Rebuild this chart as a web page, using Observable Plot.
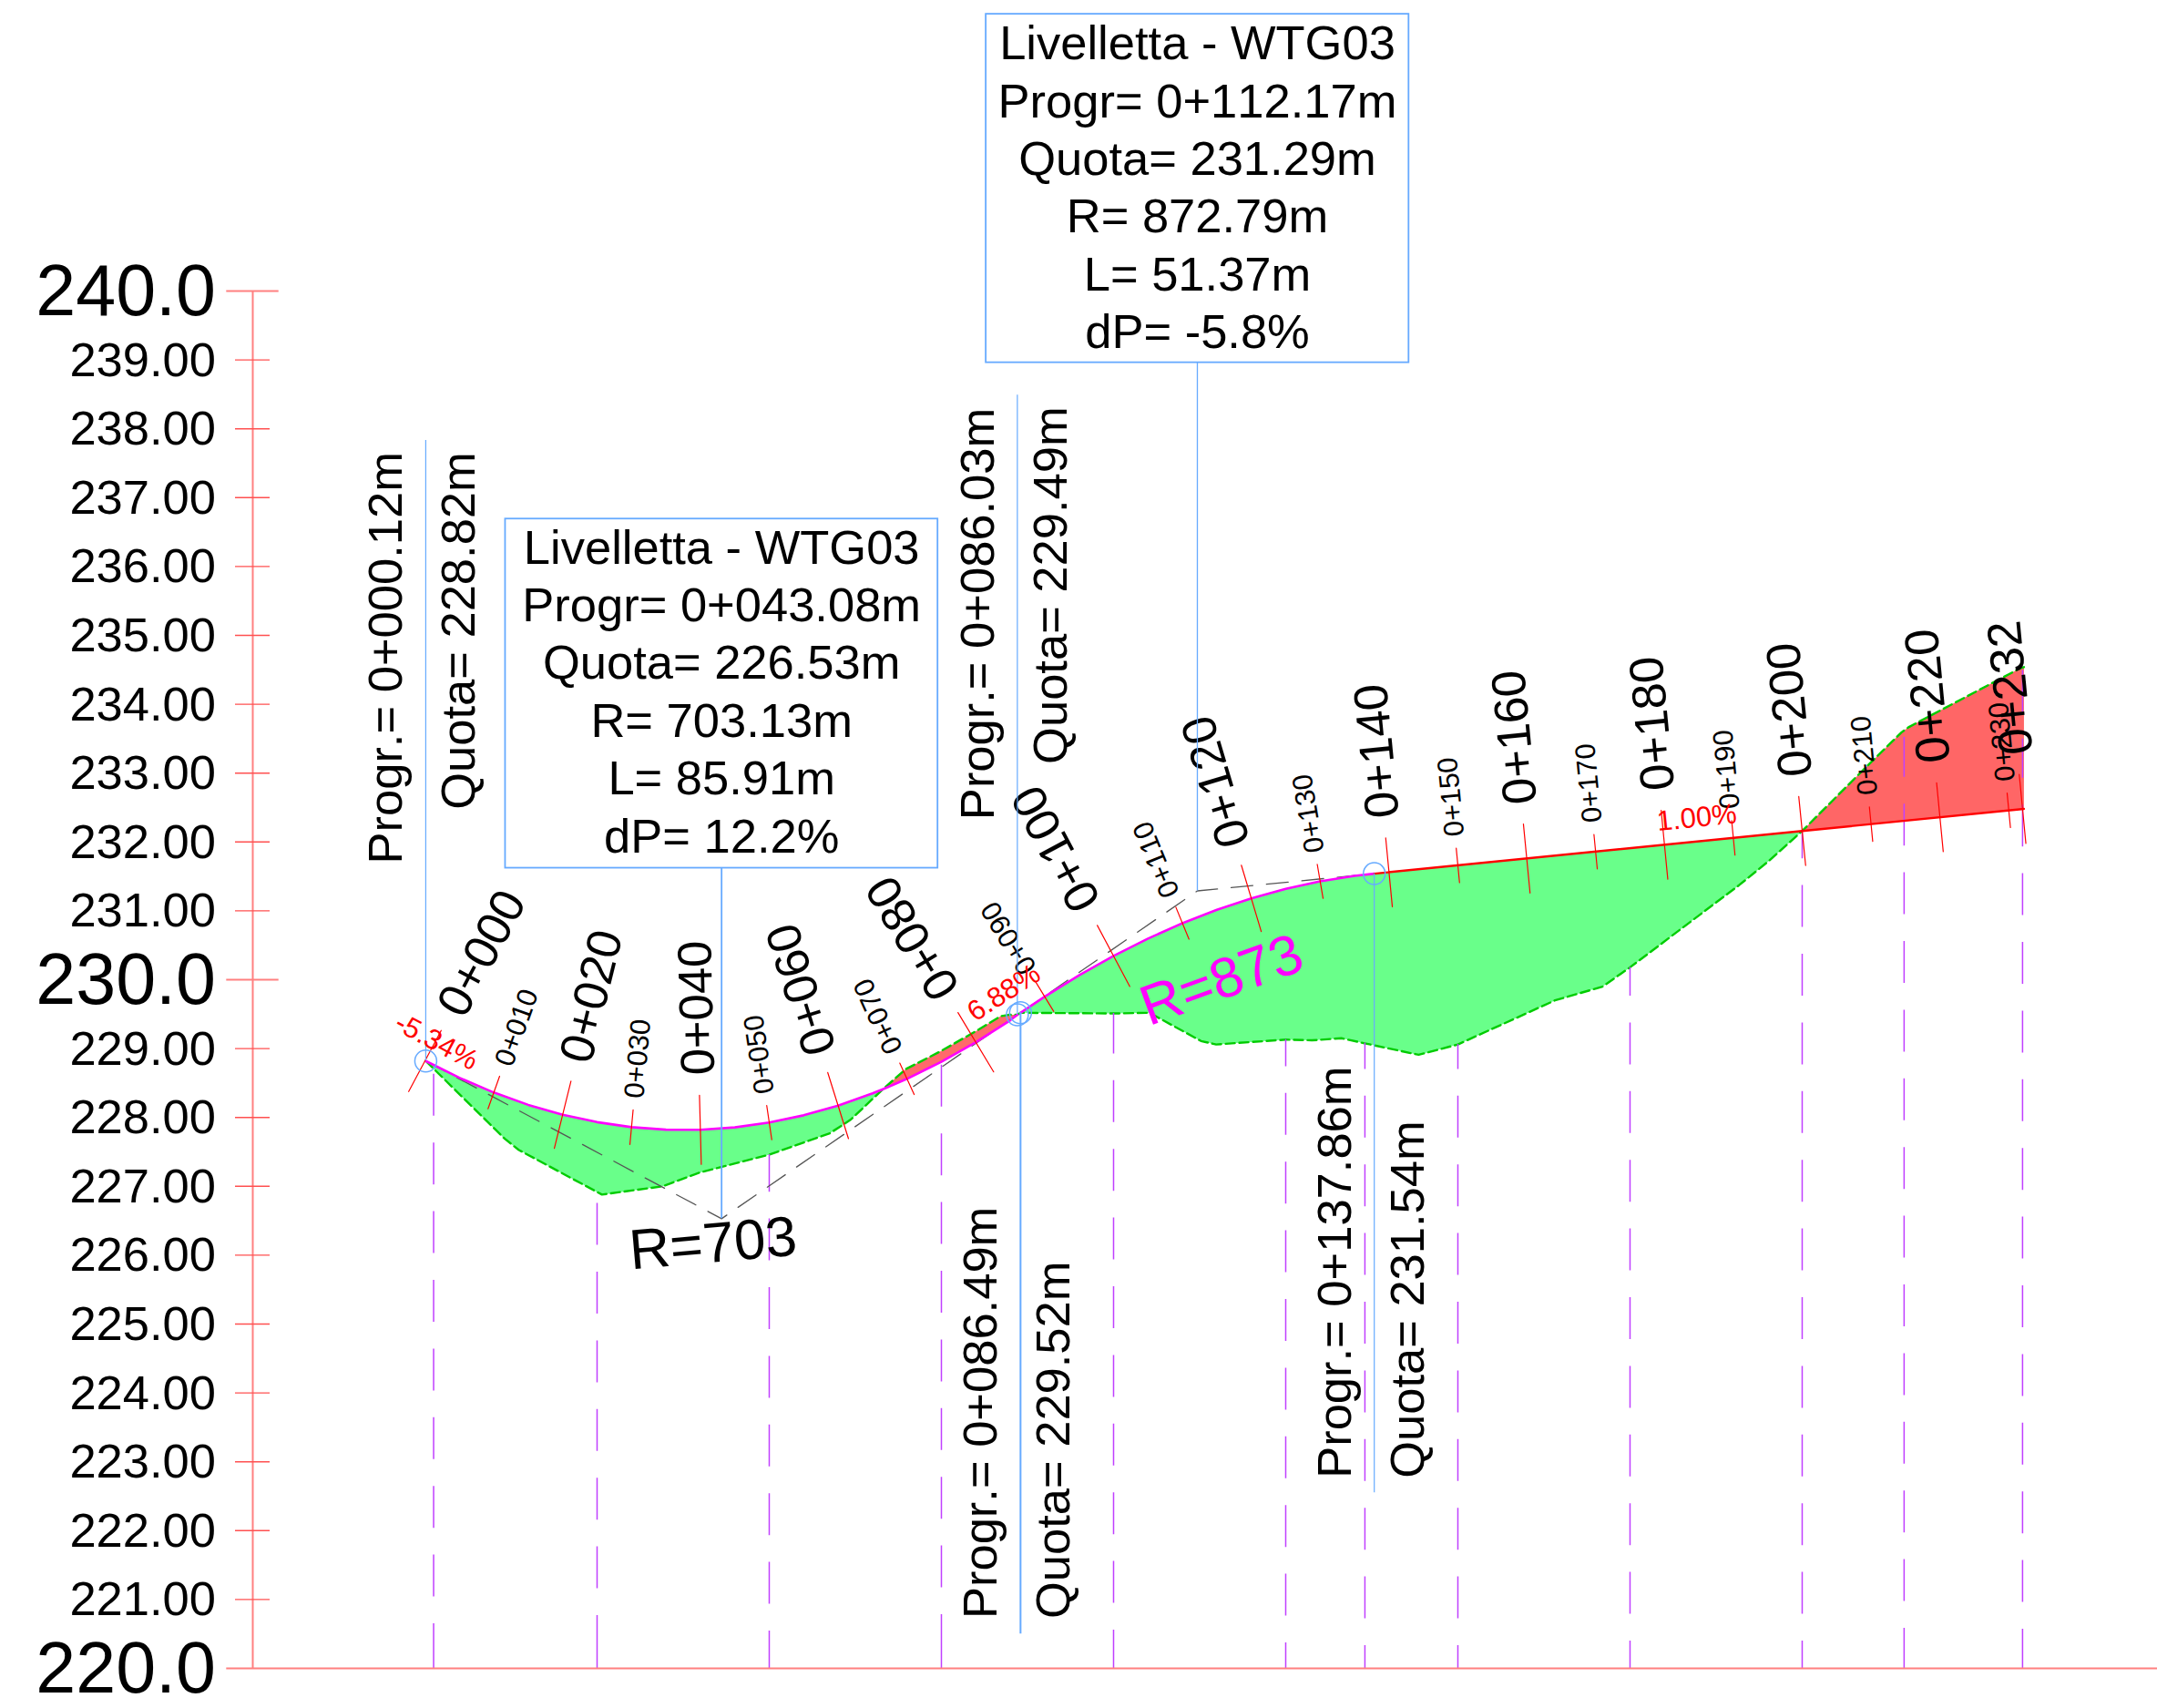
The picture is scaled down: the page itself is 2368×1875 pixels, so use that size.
<!DOCTYPE html>
<html>
<head>
<meta charset="utf-8">
<script src="https://cdn.jsdelivr.net/npm/d3@7"></script>
<script src="https://cdn.jsdelivr.net/npm/@observablehq/plot@0.6"></script>
<style>
html,body{margin:0;padding:0;background:#fff}
svg{display:block}
svg text{font-kerning:none}
</style>
</head>
<body>
<div id="chart"></div>
<script>
const FONT = "Liberation Sans, Arial, sans-serif";
const majorTicks = [240, 230, 220];
const minorTicks = [239,238,237,236,235,234,233,232,231,229,228,227,226,225,224,223,222,221];

const profileStations = [0.12,5,10,15,20,25,30,35,40,45,50,55,60,65,66.5,70,75,80,85,86.03,86.49,90,95,100,105,110,115,120,125,130,135,137.86,200,232.2];
const profileElevations = [228.82,228.576,228.362,228.183,228.04,227.932,227.859,227.823,227.821,227.856,227.926,228.031,228.172,228.349,228.41,228.561,228.809,229.092,229.411,229.49,229.52,229.754,230.064,230.345,230.597,230.821,231.016,231.182,231.32,231.429,231.509,231.54,232.16,232.48];

const terrainStations = [0.12,11.6,13.6,25.7,34.5,39.9,50,58.8,61.85,66.5,69.8,75.05,80.3,83.6,84.75,86.03,86.49,100,105.2,112.7,114.9,125,128.8,133.1,136.3,144.3,150,164.1,171,175,190.8,195.1,200,208.2,214.4,215.5,231.6,232.2];
const terrainElevations = [228.82,227.69,227.53,226.88,227.0,227.2,227.46,227.77,227.97,228.41,228.70,228.97,229.27,229.47,229.49,229.49,229.52,229.51,229.52,229.11,229.06,229.13,229.12,229.15,229.08,228.91,229.06,229.70,229.90,230.18,231.37,231.72,232.16,232.98,233.59,233.67,234.52,234.54];

const tangentA = [[0.12,228.82],[43.08,226.53],[86.03,229.49]];
const tangentB = [[86.49,229.52],[112.17,231.29],[137.86,231.54]];

const sectionStations = [1.26,25,50,75,100,125,136.5,150,175,200,214.8,232];
const sectionTops = [228.72,226.92,227.46,228.97,229.51,229.13,229.08,229.06,230.18,232.16,233.6,234.53];
const sectionLastDash = [49,58,41,59,42,28,25,25,30,30,44,43];

const tickStations = [0,10,20,30,40,50,60,70,80,90,100,110,120,130,140,150,160,170,180,190,200,210,220,230,232];
const tickElevations = [228.82,228.362,228.04,227.859,227.821,227.926,228.172,228.561,229.092,229.754,230.345,230.821,231.182,231.429,231.56,231.66,231.76,231.86,231.96,232.06,232.16,232.26,232.36,232.46,232.48];
const tickAngles = [28,19.6,13.9,5.3,-1.5,-8.4,-17.4,-24.6,-31,-31.5,-28,-22.3,-16.7,-9.7,-5.5,-5.5,-5.5,-5.5,-5.5,-5.5,-5.7,-5.5,-5.5,-5.5,-5.5];
const tickLabels = ["0+000","0+010","0+020","0+030","0+040","0+050","0+060","0+070","0+080","0+090","0+100","0+110","0+120","0+130","0+140","0+150","0+160","0+170","0+180","0+190","0+200","0+210","0+220","0+230","0+232"];
const tickMajor = [1,0,1,0,1,0,1,0,1,0,1,0,1,0,1,0,1,0,1,0,1,0,1,0,1];

const circleStations = [0.12,86.03,86.49,137.86];
const circleElevations = [228.82,229.49,229.52,231.54];

const boxA = {x1:11.7,x2:74.5,y1:231.62,y2:236.69};
const boxB = {x1:81.5,x2:142.9,y1:238.96,y2:244.02};
const boxALines = ["Livelletta - WTG03","Progr= 0+043.08m","Quota= 226.53m","R= 703.13m","L= 85.91m","dP= 12.2%"];
const boxBLines = ["Livelletta - WTG03","Progr= 0+112.17m","Quota= 231.29m","R= 872.79m","L= 51.37m","dP= -5.8%"];

const progrNotes = [
  {s:0.12,  e:231.68, t:"Progr.= 0+000.12m"},
  {s:86.03, e:232.32, t:"Progr.= 0+086.03m"},
  {s:86.49, e:220.72, t:"Progr.= 0+086.49m"},
  {s:137.86,e:222.76, t:"Progr.= 0+137.86m"}
];
const quotaNotes = [
  {s:0.12,  e:232.47, t:"Quota= 228.82m"},
  {s:86.03, e:233.13, t:"Quota= 229.49m"},
  {s:86.49, e:220.72, t:"Quota= 229.52m"},
  {s:137.86,e:222.76, t:"Quota= 231.54m"}
];
const slopeNotes = [
  {s:1.68,  e:229.10, r:28,   t:"-5.34%"},
  {s:84.06, e:229.81, r:-33,  t:"6.88%"},
  {s:184.7, e:232.35, r:-5.7, t:"1.00%"}
];
const radiusNotes = [
  {s:41.85, e:226.16, r:-5,  t:"R=703", c:"#000"},
  {s:115.7, e:229.99, r:-20, t:"R=873", c:"#ff00ff"}
];

const xDomain = [-61.64, 251.59];
const yDomain = [219.418, 244.22];
const W = 2368, H = 1875;
const pxS = W / (xDomain[1] - xDomain[0]);
const pxE = H / (yDomain[1] - yDomain[0]);

const profile = profileStations.map((s,i)=>({s, e:profileElevations[i]}));
const terrain = terrainStations.map((s,i)=>({s, e:terrainElevations[i]}));
const seg = (arr,a,b)=>arr.filter(d=>d.s>=a && d.s<=b);
const poly = (a,b)=>[...seg(terrain,a,b), ...seg(profile,a,b).reverse()];
const ticks = tickStations.map((s,i)=>({s, e:tickElevations[i], a:tickAngles[i], t:tickLabels[i], big:tickMajor[i]===1}));
const bigT = ticks.filter(d=>d.big), smallT = ticks.filter(d=>!d.big);
const tickShape = {draw(ctx,l){ctx.moveTo(0,0);ctx.lineTo(0,-l);}};
const rad = d=>d.a*Math.PI/180;

const axisS = -25, labelS = -30.36;
const minorHalf = 19/pxS, majorHalf = 28.7/pxS;
const LINE = 63.4/52.5;

const sectionRules = sectionStations.map((s,i)=>{
  const L = sectionLastDash[i];
  const dash = [L,29.4,...Array(12).fill([46,29.4]).flat()].join(",");
  return Plot.ruleX([s],{y1:220,y2:sectionTops[i],stroke:"#c040ff",strokeWidth:1.5,strokeDasharray:dash});
});

const labelMark = (data,size,off)=>Plot.text(data,{
  x:d=>d.s+off*Math.sin(rad(d))/pxS,
  y:d=>d.e+off*Math.cos(rad(d))/pxE,
  text:"t", rotate:d=>d.a-90, textAnchor:"start", lineAnchor:"middle",
  fontSize:size, fontFamily:FONT, fill:"#000"
});

const chart = Plot.plot({
  width:W, height:H, margin:0,
  x:{domain:xDomain, range:[0,W], axis:null},
  y:{domain:yDomain, range:[H,0], axis:null},
  style:{background:"#fff", fontFamily:FONT},
  marks:[
    Plot.line(poly(0.12,66.5),{x:"s",y:"e",fill:"#69ff8a",stroke:"none"}),
    Plot.line(poly(66.5,86.03),{x:"s",y:"e",fill:"#ff6a6a",stroke:"none"}),
    Plot.line(poly(86.49,200),{x:"s",y:"e",fill:"#69ff8a",stroke:"none"}),
    Plot.line(poly(200,232.2),{x:"s",y:"e",fill:"#ff6666",stroke:"none"}),
    Plot.line(terrain,{x:"s",y:"e",stroke:"#00cc00",strokeWidth:2.4,strokeDasharray:"10,5"}),
    ...sectionRules,
    Plot.line(tangentA,{x:"0",y:"1",stroke:"#555",strokeWidth:1.3,strokeDasharray:"24,15"}),
    Plot.line(tangentB,{x:"0",y:"1",stroke:"#555",strokeWidth:1.3,strokeDasharray:"24,15"}),
    Plot.line(seg(profile,0.12,86.03),{x:"s",y:"e",stroke:"#ff00ff",strokeWidth:2.6}),
    Plot.line(seg(profile,86.49,137.86),{x:"s",y:"e",stroke:"#ff00ff",strokeWidth:2.6}),
    Plot.line(seg(profile,137.86,232.2),{x:"s",y:"e",stroke:"#ff0000",strokeWidth:2.4}),
    Plot.vector(bigT,{x:"s",y:"e",rotate:"a",length:76,anchor:"middle",shape:tickShape,stroke:"#ff0000",strokeWidth:1.2}),
    Plot.vector(smallT,{x:"s",y:"e",rotate:"a",length:38,anchor:"middle",shape:tickShape,stroke:"#ff0000",strokeWidth:1.2}),

    // axis
    Plot.ruleX([axisS],{y1:220,y2:240,stroke:"#ff8080",strokeWidth:2}),
    Plot.ruleY(majorTicks.slice(0,2),{x1:axisS-majorHalf,x2:axisS+majorHalf,stroke:"#ff8080",strokeWidth:2}),
    Plot.ruleY([220],{x1:axisS-majorHalf,x2:xDomain[1],stroke:"#ff8080",strokeWidth:2}),
    Plot.ruleY(minorTicks,{x1:axisS-minorHalf,x2:axisS+minorHalf,stroke:"#ff5050",strokeWidth:1.4}),
    Plot.text(majorTicks,{x:()=>labelS,y:d=>d,text:d=>d.toFixed(1),textAnchor:"end",lineAnchor:"bottom",dy:26.5,fontSize:79,fontFamily:FONT,fill:"#000"}),
    Plot.text(minorTicks,{x:()=>labelS,y:d=>d,text:d=>d.toFixed(2),textAnchor:"end",lineAnchor:"bottom",dy:17.5,fontSize:52.5,fontFamily:FONT,fill:"#000"}),

    // station labels
    labelMark(bigT,52.5,60),
    labelMark(smallT,31,32),

    // callouts
    Plot.rect([boxA,boxB],{x1:"x1",x2:"x2",y1:"y1",y2:"y2",fill:"none",stroke:"#66aaff",strokeWidth:1.8}),
    Plot.ruleX([43.08],{y1:226.53,y2:boxA.y1,stroke:"#66aaff",strokeWidth:1.8}),
    Plot.ruleX([112.17],{y1:231.29,y2:boxB.y1,stroke:"#66aaff",strokeWidth:1.3}),
    Plot.ruleX([0.12],{y1:228.82,y2:237.83,stroke:"#66aaff",strokeWidth:1.2}),
    Plot.ruleX([86.03],{y1:229.49,y2:238.49,stroke:"#66aaff",strokeWidth:1.2}),
    Plot.ruleX([86.49],{y1:229.52,y2:220.5,stroke:"#66aaff",strokeWidth:2}),
    Plot.ruleX([137.86],{y1:231.54,y2:222.55,stroke:"#66aaff",strokeWidth:1.2}),
    Plot.dot(circleStations.map((s,i)=>({s,e:circleElevations[i]})),{x:"s",y:"e",r:12,fill:"none",stroke:"#66aaff",strokeWidth:1.5}),
    Plot.text([boxALines.join("\n")],{x:()=>43.08,y:()=>231.85,text:d=>d,lineAnchor:"bottom",lineHeight:LINE,fontSize:52.5,fontFamily:FONT,fill:"#000"}),
    Plot.text([boxBLines.join("\n")],{x:()=>112.17,y:()=>239.17,text:d=>d,lineAnchor:"bottom",lineHeight:LINE,fontSize:52.5,fontFamily:FONT,fill:"#000"}),

    Plot.text(progrNotes,{x:"s",y:"e",text:"t",rotate:-90,textAnchor:"start",lineAnchor:"bottom",dx:-26,fontSize:52.5,fontFamily:FONT,fill:"#000"}),
    Plot.text(quotaNotes,{x:"s",y:"e",text:"t",rotate:-90,textAnchor:"start",lineAnchor:"bottom",dx:54,fontSize:52.5,fontFamily:FONT,fill:"#000"}),
    Plot.text(slopeNotes,{x:"s",y:"e",text:"t",rotate:"r",textAnchor:"middle",lineAnchor:"middle",fontSize:31,fontFamily:FONT,fill:"#ff0000"}),
    Plot.text(radiusNotes,{x:"s",y:"e",text:"t",rotate:"r",textAnchor:"middle",lineAnchor:"middle",fontSize:62,fontFamily:FONT,fill:"c"})
  ]
});
document.getElementById("chart").appendChild(chart);
</script>
</body>
</html>
